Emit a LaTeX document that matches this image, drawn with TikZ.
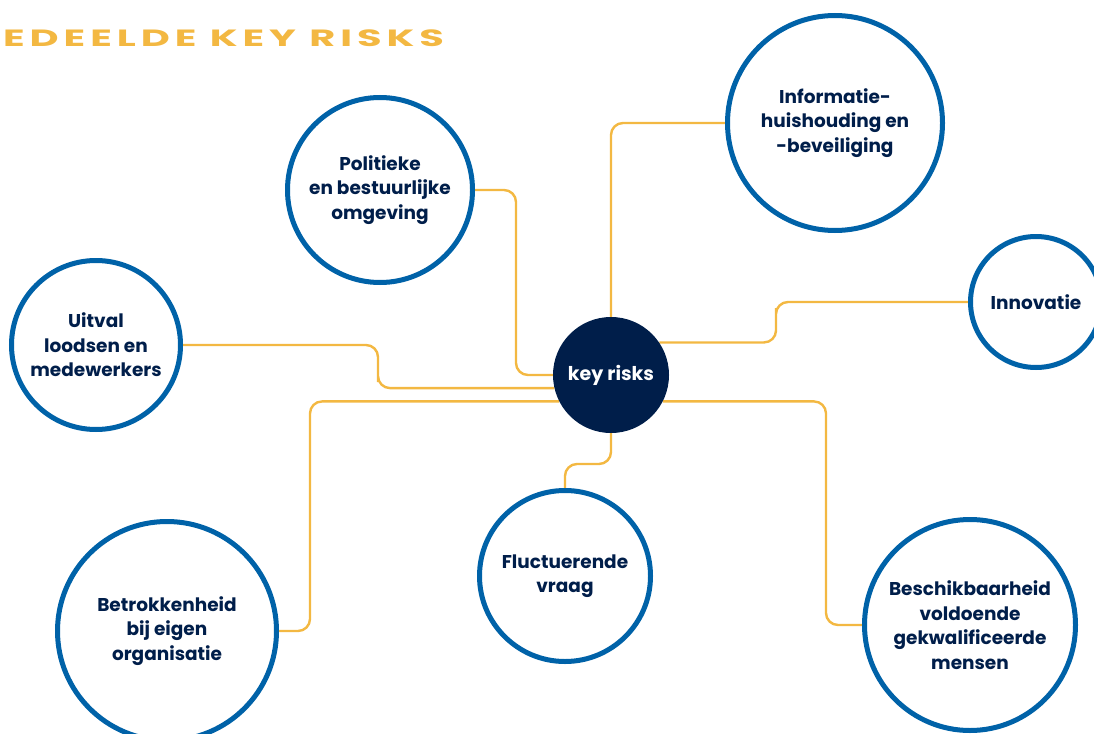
\documentclass[tikz,border=0pt]{standalone}
\usepackage{fontspec}
\setmainfont{Poppins}
\newfontfamily\kopfont[FakeStretch=1.7,LetterSpace=21]{Poppins}
\usetikzlibrary{backgrounds}

\definecolor{riskblue}{RGB}{0,98,168}
\definecolor{risknavy}{RGB}{0,30,74}
\definecolor{riskgold}{RGB}{243,184,66}

\tikzset{
  risk/.style={circle, draw=riskblue, line width=5pt, fill=white, text=risknavy,
    align=center, inner sep=0pt, font=\bfseries\fontsize{18.5}{24.5}\selectfont},
  link/.style={draw=riskgold, line width=2.4pt, rounded corners=12pt},
}

\begin{document}
\begin{tikzpicture}[x=1pt,y=1pt,yscale=-1]
\useasboundingbox (0,0) rectangle (1094,733);
\clip (0,0) rectangle (1094,733);

% titel
\node [anchor=west, text=riskgold, inner sep=0pt] (titel) at (3,38)
  {\kopfont\bfseries\fontsize{23.5}{24}\selectfont EDEELDE KEY RISKS};

% centrum
\node [circle, fill=risknavy, text=white, minimum size=116, inner sep=0pt,
  font=\bfseries\fontsize{19}{20}\selectfont] (key) at (611,375) {key risks};

% risico's
\node [risk, minimum size=185] (pol) at (380,190) {Politieke\\en bestuurlijke\\omgeving};
\node [risk, minimum size=215] (info) at (835,123) {Informatie-\\huishouding en\\-beveiliging};
\node [risk, minimum size=131] (inno) at (1036,302) {Innovatie};
\node [risk, minimum size=169] (uitval) at (96,345) {Uitval\\loodsen en\\medewerkers};
\node [risk, minimum size=219] (betrok) at (167,631) {Betrokkenheid\\bij eigen\\organisatie};
\node [risk, minimum size=171] (fluct) at (565,576) {Fluctuerende\\vraag};
\node [risk, minimum size=211] (besch) at (970,625) {Beschikbaarheid\\voldoende\\gekwalificeerde\\mensen};

% verbindingen
\begin{scope}[on background layer]
\draw [link] (pol.east) -| (516,300) |- (key.west);
\draw [link] (info.west) -| (key.north);
\draw [link] (inno.west) -| (776,320) |- (key.34);
\draw [link] (uitval.east) -| (378,370) |- (key.193);
\draw [link] (betrok.east) -| (310,500) |- (key.207);
\draw [link] (key.-27) -| (826,500) |- (besch.west);
\draw [link] (key.south) |- (588,464) -| (fluct.north);
\end{scope}
\end{tikzpicture}
\end{document}
